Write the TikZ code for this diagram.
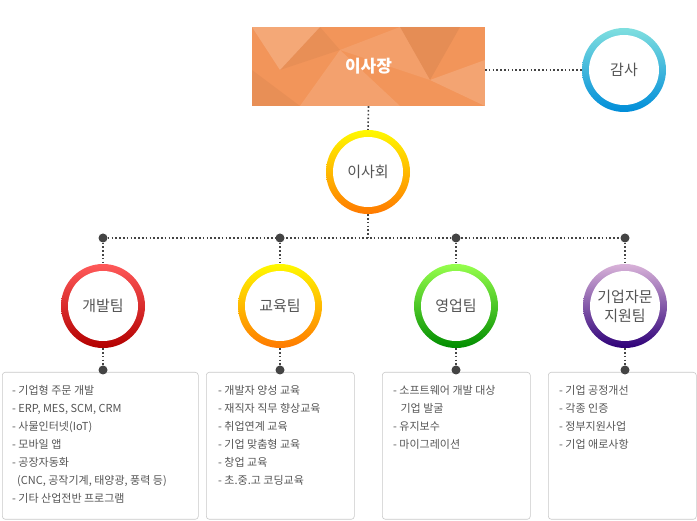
\documentclass[tikz,border=0pt]{standalone}
\usepackage{fontspec}
\setmainfont{Noto Sans CJK KR}
\usetikzlibrary{shadings}
\definecolor{txt}{HTML}{555555}
\definecolor{bordc}{HTML}{C8C8C8}
\definecolor{peach}{HTML}{F2955A}
\begin{document}
\begin{tikzpicture}[x=1pt,y=-1pt,
  dotl/.style={draw=txt!80!black,line width=1.6pt,dash pattern=on 1.6pt off 2.2pt},
  jdot/.style={circle,fill=txt!80!black,inner sep=0pt,minimum size=9pt},
  ctext/.style={text=txt,font=\fontsize{15}{17}\selectfont,align=center},
  boxs/.style={draw=bordc,rounded corners=3pt,line width=0.6pt},
  btext/.style={text=txt,font=\fontsize{11}{18}\selectfont,align=left,anchor=north west,inner sep=0pt}]
\useasboundingbox (0,0) rectangle (697,521);
\newcommand{\ring}[5]{% name,x,y,col1,col2
  \shade[top color=#4,bottom color=#5] (#2,#3) circle (42);
  \fill[white] (#2,#3) circle (35);
  \node[circle,minimum size=84pt,inner sep=0pt] (#1) at (#2,#3) {};}
% top rect
\begin{scope}
\clip (252,27) rectangle (485,106);
\fill[peach] (252,27) rectangle (485,106);
\fill[white,opacity=0.18] (252,27) -- (320,27) -- (280,70) -- cycle;
\fill[white,opacity=0.12] (300,106) -- (340,50) -- (400,106) -- cycle;
\fill[black,opacity=0.05] (400,27) -- (460,27) -- (430,80) -- cycle;
\fill[white,opacity=0.15] (430,80) -- (485,60) -- (485,106) -- cycle;
\fill[black,opacity=0.04] (252,70) -- (300,106) -- (252,106) -- cycle;
\fill[white,opacity=0.1] (340,50) -- (400,27) -- (430,80) -- cycle;
\fill[black,opacity=0.04] (320,27) -- (340,50) -- (280,70) -- cycle;
\end{scope}
\node[inner sep=0pt,minimum width=233pt,minimum height=79pt] (ceo) at (368.5,66.5) {};
\node[text=white,font=\bfseries\fontsize{17}{19}\selectfont] at (ceo) {이사장};
\ring{audit}{624}{70}{cyan!50!teal!50!white}{cyan!65!blue!85!black}
\node[ctext] at (audit) {감사};
\ring{board}{368}{172}{yellow!95!orange}{orange!95!red}
\node[ctext] at (board) {이사회};
\ring{t1}{103}{306}{red!65!white}{red!70!black}
\node[ctext] at (t1) {개발팀};
\ring{t2}{280}{306}{yellow!95!orange}{orange!95!red}
\node[ctext] at (t2) {교육팀};
\ring{t3}{456}{306}{green!45!lime!70!white}{green!55!black}
\node[ctext] at (t3) {영업팀};
\ring{t4}{625}{306}{violet!30!white}{violet!55!blue!65!black}
\node[ctext,font=\fontsize{15}{19}\selectfont] at (t4) {기업자문\\지원팀};
\coordinate (ce) at (485,70);
\draw[dotl] (ce) -- (audit.west);
\draw[dotl] (ceo.south) -- (board.north);
\coordinate (hub) at (368,238);
\node[jdot] (j1) at (103,238) {};
\node[jdot] (j2) at (280,238) {};
\node[jdot] (j3) at (456,238) {};
\node[jdot] (j4) at (625,238) {};
\draw[dotl] (board.south) -- (hub);
\draw[dotl] (j1) -- (j4);
\foreach \i in {1,...,4}{\draw[dotl] (j\i) -- (t\i.north);}
\node[boxs,minimum width=196pt,minimum height=147pt,anchor=north west] (b1) at (2,372) {};
\node[boxs,minimum width=148pt,minimum height=147pt,anchor=north west] (b2) at (206,372) {};
\node[boxs,minimum width=148pt,minimum height=147pt,anchor=north west] (b3) at (382,372) {};
\node[boxs,minimum width=148pt,minimum height=147pt,anchor=north west] (b4) at (548,372) {};
\foreach \x/\i in {103/1,280/2,456/3,625/4}{
  \node[jdot] (k\i) at (\x,370) {};
  \draw[dotl] (t\i.south) -- (k\i);}
\node[btext] at (12,385) {- 기업형 주문 개발\\- ERP, MES, SCM, CRM\\- 사물인터넷(IoT)\\- 모바일 앱\\- 공장자동화\\\ \ (CNC, 공작기계, 태양광, 풍력 등)\\- 기타 산업전반 프로그램};
\node[btext] at (218,385) {- 개발자 양성 교육\\- 재직자 직무 향상교육\\- 취업연계 교육\\- 기업 맞춤형 교육\\- 창업 교육\\- 초.중.고 코딩교육};
\node[btext] at (393,385) {- 소프트웨어 개발 대상\\\ \ \ 기업 발굴\\- 유지보수\\- 마이그레이션};
\node[btext] at (559,385) {- 기업 공정개선\\- 각종 인증\\- 정부지원사업\\- 기업 애로사항};
\end{tikzpicture}
\end{document}
